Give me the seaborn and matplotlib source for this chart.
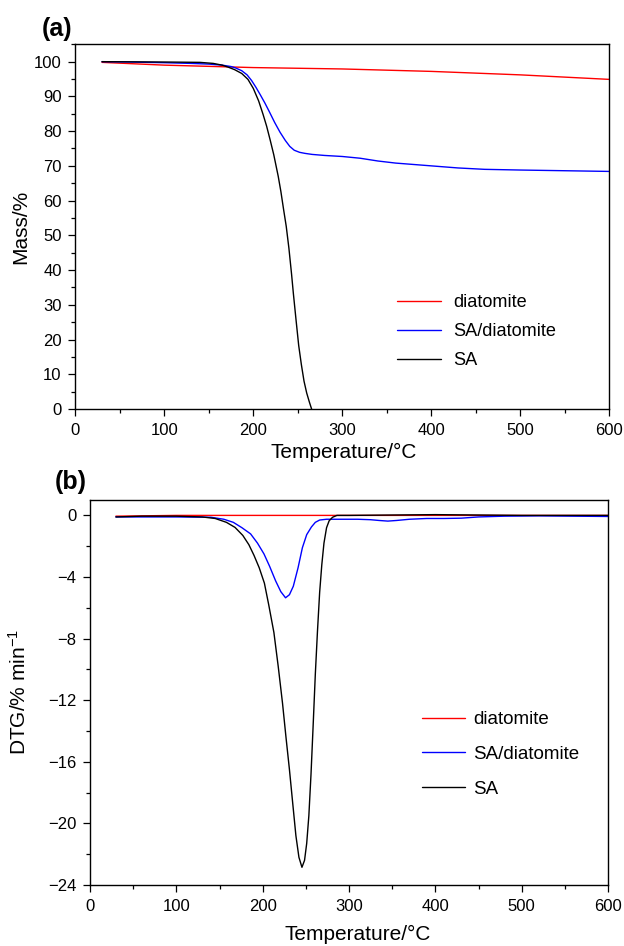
import numpy as np
import pandas as pd
import matplotlib
matplotlib.use("Agg")
import matplotlib.pyplot as plt
from matplotlib.ticker import MultipleLocator
import seaborn as sns

# ---------------- data ----------------
# (a) TG curves
tg_dia_T = [30, 100, 200, 300, 400, 500, 600]
tg_dia_M = [99.8, 99.0, 98.3, 97.9, 97.2, 96.2, 94.9]

tg_sad_T = [30, 60, 100, 130, 150, 165, 175, 180, 187, 193, 198, 203, 208, 213, 218,
            224, 230, 236, 241, 246, 252, 258, 266, 280, 300, 320, 340, 360, 380,
            400, 430, 460, 500, 550, 600]
tg_sad_M = [100.0, 99.9, 99.7, 99.5, 99.3, 99.0, 98.6, 98.2, 97.4, 96.2, 94.6, 92.6,
            90.4, 88.1, 85.6, 82.5, 79.7, 77.3, 75.6, 74.5, 73.9, 73.6, 73.3, 73.0,
            72.7, 72.2, 71.4, 70.8, 70.4, 70.0, 69.4, 69.0, 68.8, 68.6, 68.4]

tg_sa_T = [30, 100, 140, 155, 165, 172, 179, 187, 194, 200, 206, 211, 215, 219, 223,
           228, 231, 234, 237, 240, 243, 245, 248, 251, 254, 257, 260, 263, 265.5]
tg_sa_M = [100.0, 99.9, 99.8, 99.5, 99.0, 98.4, 97.7, 96.6, 94.9, 92.3, 88.7, 84.8,
           81.4, 77.4, 73.2, 67.0, 62.6, 57.5, 52.6, 46.3, 38.8, 33.3, 25.7, 18.3,
           12.8, 8.0, 4.6, 2.0, 0.0]

# (b) DTG curves
dtg_dia_T = [30, 100, 200, 300, 400, 500, 600]
dtg_dia_V = [-0.05, 0.0, 0.0, 0.0, 0.0, 0.0, 0.0]

dtg_sad_T = [30, 100, 140, 155, 166, 176, 186, 194, 201.5, 208, 215, 221, 226.5, 231,
             235.5, 241, 246, 251, 256.5, 261, 266, 274, 290, 310, 325, 335, 345,
             355, 370, 390, 410, 430, 450, 480, 520, 560, 600]
dtg_sad_V = [-0.1, -0.1, -0.12, -0.25, -0.45, -0.8, -1.2, -1.8, -2.5, -3.3, -4.25,
             -4.95, -5.35, -5.15, -4.6, -3.4, -2.1, -1.25, -0.75, -0.45, -0.3, -0.25,
             -0.25, -0.25, -0.28, -0.33, -0.37, -0.33, -0.25, -0.2, -0.2, -0.18,
             -0.1, -0.05, -0.03, -0.05, -0.07]

dtg_sa_T = [30, 60, 100, 130, 145, 158, 168, 177, 184, 190, 196, 202, 207, 213, 218,
            223, 227, 231, 235, 238.5, 242, 245.5, 248.5, 251, 253.5, 256, 258.5,
            261, 263.5, 266, 268.5, 271, 274, 277, 281, 286, 300, 400, 500, 600]
dtg_sa_V = [-0.1, -0.05, -0.05, -0.1, -0.2, -0.45, -0.78, -1.3, -1.9, -2.6, -3.4,
            -4.4, -5.8, -7.6, -9.8, -12.2, -14.4, -16.5, -18.8, -20.8, -22.2, -22.85,
            -22.4, -21.3, -19.5, -16.8, -13.6, -10.3, -7.5, -5.0, -3.2, -1.8, -0.8,
            -0.35, -0.12, 0.0, 0.0, 0.05, 0.0, 0.0]

labels = ["diatomite", "SA/diatomite", "SA"]
colors = ["#ff0000", "#0000ff", "#000000"]

# ---------------- style ----------------
sns.set_theme(style="ticks")
FONT = ["Liberation Sans", "DejaVu Sans"]
plt.rcParams["font.family"] = FONT
plt.rcParams["mathtext.fontset"] = "custom"
plt.rcParams["mathtext.rm"] = "Liberation Sans"
plt.rcParams["mathtext.it"] = "Liberation Sans:italic"
plt.rcParams["axes.unicode_minus"] = True
for k in ["text.color", "axes.labelcolor", "xtick.color", "ytick.color",
          "axes.edgecolor"]:
    plt.rcParams[k] = "black"

fig = plt.figure(figsize=(6.24, 9.46), dpi=100)
W, H = 624, 946


def add_axes(l, r, t, b):
    return fig.add_axes([l / W, 1 - b / H, (r - l) / W, (b - t) / H])


axA = add_axes(75.3, 609.3, 44.3, 409.0)
axB = add_axes(90.0, 608.0, 500.0, 885.0)

tg = [(tg_dia_T, tg_dia_M), (tg_sad_T, tg_sad_M), (tg_sa_T, tg_sa_M)]
dtg = [(dtg_dia_T, dtg_dia_V), (dtg_sad_T, dtg_sad_V), (dtg_sa_T, dtg_sa_V)]

for (x, y), lab, c in zip(tg, labels, colors):
    sns.lineplot(x=x, y=y, ax=axA, color=c, lw=1.0, label=lab,
                 estimator=None, sort=False)
for (x, y), lab, c in zip(dtg, labels, colors):
    sns.lineplot(x=x, y=y, ax=axB, color=c, lw=1.0, label=lab,
                 estimator=None, sort=False)

TICK_FS = 12
LAB_FS = 15

for ax in (axA, axB):
    ax.set_xlim(0, 600)
    ax.xaxis.set_major_locator(MultipleLocator(100))
    ax.xaxis.set_minor_locator(MultipleLocator(50))
    for s in ax.spines.values():
        s.set_visible(True)
        s.set_linewidth(1.0)
        s.set_color("black")
    ax.tick_params(which="both", direction="out", top=False, right=False,
                   colors="black", labelcolor="black", labelsize=TICK_FS, width=0.9)
    ax.tick_params(which="major", length=5.3, pad=4.5)
    ax.tick_params(which="minor", length=3.0)
    ax.set_xlabel("Temperature/°C", fontsize=LAB_FS, color="black")
    ax.grid(False)

axA.set_ylim(0, 105)
axA.yaxis.set_major_locator(MultipleLocator(10))
axA.yaxis.set_minor_locator(MultipleLocator(5))
axA.set_ylabel("Mass/%", fontsize=LAB_FS, color="black")

axB.set_ylim(-24, 1)
axB.yaxis.set_major_locator(MultipleLocator(4))
axB.yaxis.set_minor_locator(MultipleLocator(2))
axB.set_ylabel("DTG/% min$^{-1}$", fontsize=LAB_FS, color="black")

axA.yaxis.set_label_coords(-0.085, 0.5)
axB.yaxis.set_label_coords(-0.116, 0.5)
axA.xaxis.set_label_coords(0.502, -0.092)
axB.xaxis.set_label_coords(0.516, -0.105)

legA = axA.legend(loc="upper left", bbox_to_anchor=(0.602, 0.314), frameon=False,
                  fontsize=13.1, borderpad=0, borderaxespad=0, handlelength=2.42,
                  handletextpad=0.69, labelspacing=0.65)
legB = axB.legend(loc="upper left", bbox_to_anchor=(0.641, 0.452), frameon=False,
                  fontsize=13.5, borderpad=0, borderaxespad=0, handlelength=2.28,
                  handletextpad=0.43, labelspacing=0.94)
for leg in (legA, legB):
    for t in leg.get_texts():
        t.set_color("black")

fig.text(42 / W, 1 - 36 / H, "(a)", fontsize=18, fontweight="bold",
         va="baseline", ha="left", color="black")
fig.text(55 / W, 1 - 489 / H, "(b)", fontsize=18, fontweight="bold",
         va="baseline", ha="left", color="black")

fig.savefig("out.png", dpi=100)
